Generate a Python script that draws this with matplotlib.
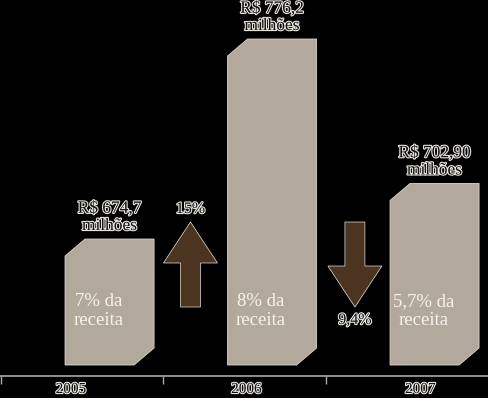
import matplotlib
matplotlib.use('Agg')
import matplotlib.pyplot as plt
import matplotlib.patheffects as pe
from matplotlib.patches import Polygon

# dados
anos = ['2005', '2006', '2007']
valores = [674.7, 776.2, 702.90]
rotulos_valor = ['R$ 674,7\nmilhões', 'R$ 776,2\nmilhões', 'R$ 702,90\nmilhões']
rotulos_receita = ['7% da\nreceita', '8% da\nreceita', '5,7% da\nreceita']
variacoes = ['15%', '9,4%']
direcoes = [1, -1]

# cores
cor_barra = '#b3a89c'
cor_seta = '#4b3420'
cor_eixo = '#a8a8a8'

plt.rcParams['font.family'] = ['Liberation Serif', 'DejaVu Serif']

W, H = 489, 398
fig = plt.figure(figsize=(W / 100, H / 100), dpi=100)
fig.patch.set_facecolor('black')

# eixo: pixel 376 = linha do eixo x
px_x = 162.5          # pixels por categoria
px_y = 1.9704         # pixels por milhão
y0 = 605.17
ax = fig.add_axes([0, (H - 376) / H, 1, 376 / H])
ax.set_facecolor('black')
ax.set_xlim(-1 / px_x, (W - 1) / px_x)
ax.set_ylim(y0, y0 + 376 / px_y)

base = 610.75
larg = 89 / px_x
off = 0.668
cx = 20 / px_x
cy = 17 / px_y

contorno = [pe.withStroke(linewidth=1.6, foreground='#e8e4de')]

for i, v in enumerate(valores):
    xc = i + off
    x0, x1 = xc - larg / 2, xc + larg / 2
    pts = [(x0, base), (x1 - cx, base), (x1, base + cy), (x1, v),
           (x0 + cx, v), (x0, v - cy)]
    ax.add_patch(Polygon(pts, closed=True, fc=cor_barra, ec='#ddd6cc', lw=0.6))
    ax.text(xc, v + 5 / px_y, rotulos_valor[i], ha='center', va='bottom',
            fontsize=12.5, color='#111111', linespacing=1.1,
            path_effects=contorno)
    ax.text(xc - 11 / px_x, y0 + (376 - 311) / px_y, rotulos_receita[i],
            ha='center', va='center', fontsize=13.5, color='#f7f3ec',
            linespacing=1.15)

# setas de variação
seta_x = [1.166, 2.178]
topo = y0 + (376 - 222) / px_y
fundo = y0 + (376 - 307) / px_y
for j, d in enumerate(direcoes):
    ini, fim = (fundo, topo) if d > 0 else (topo, fundo)
    ax.arrow(seta_x[j], ini, 0, fim - ini, width=20 / px_x,
             head_width=54 / px_x, head_length=41 / px_y,
             length_includes_head=True, fc=cor_seta, ec='#e8e4de', lw=0.5)
    ty = topo + 13 / px_y if d > 0 else fundo - 13 / px_y
    ax.text(seta_x[j], ty, variacoes[j], ha='center', va='center',
            fontsize=11.5, color='#111111', path_effects=contorno)

for s in ['top', 'right', 'left']:
    ax.spines[s].set_visible(False)
ax.spines['bottom'].set_color(cor_eixo)
ax.spines['bottom'].set_linewidth(1.2)
ax.set_yticks([])
ax.set_xticks(range(len(anos)))
ax.tick_params(axis='x', length=6, width=1, color=cor_eixo, labelbottom=False)

pos_ano = [0.43, 0.51, 0.58]
for i, a in enumerate(anos):
    ax.text(i + pos_ano[i], y0 - 7 / px_y, a, ha='center', va='top',
            fontsize=11, color='#111111', path_effects=contorno, clip_on=False)

fig.savefig('out.png', dpi=100, facecolor='black')
